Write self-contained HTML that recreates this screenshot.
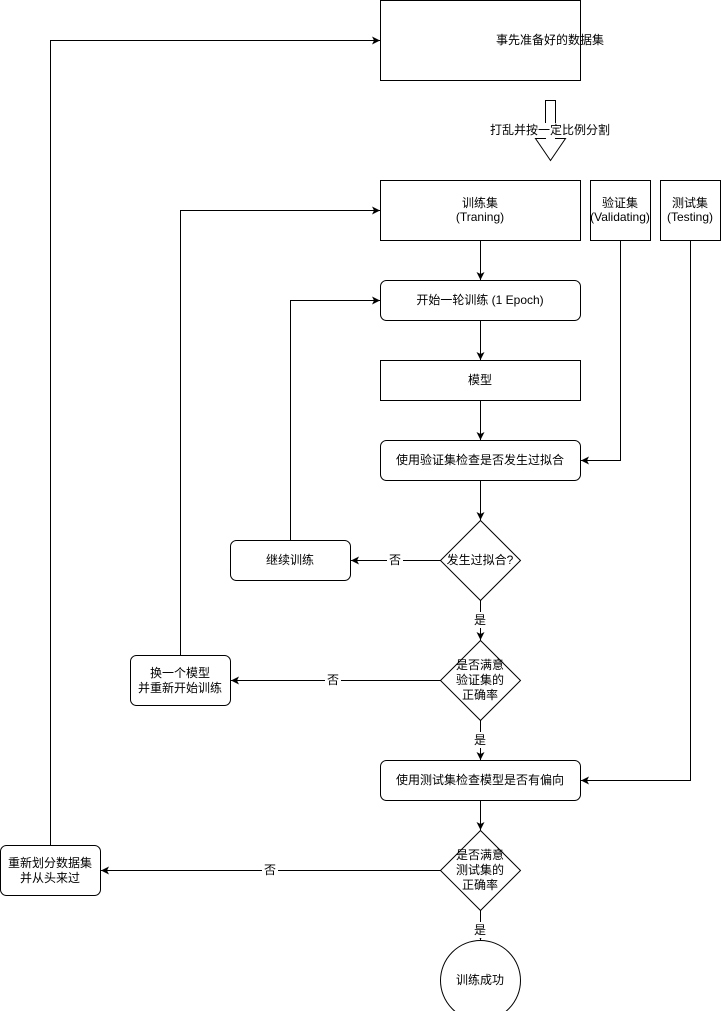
<!DOCTYPE html>
<html><head><meta charset="utf-8"><style>
html,body{margin:0;padding:0;background:#fff;}
svg{display:block;}
text{font-family:"Liberation Sans","Noto Sans CJK SC",sans-serif;font-size:12px;fill:#000;text-anchor:middle;dominant-baseline:central;}
</style></head><body>
<svg width="722" height="1011" viewBox="0 0 722 1011" xmlns="http://www.w3.org/2000/svg">
<defs><marker id="a" markerWidth="10" markerHeight="10" refX="9" refY="5" orient="auto" markerUnits="userSpaceOnUse"><path d="M1,1 L9,5 L1,9 L3,5 Z" fill="#000"/></marker></defs>
<g fill="#fff" stroke="#000" stroke-width="1">
<rect x="380.5" y="0.5" width="200" height="80"/>
<path d="M545.5,100.5 H555.5 V138.5 H565.5 L550.5,160.5 L535.5,138.5 H545.5 Z"/>
<rect x="380.5" y="180.5" width="200" height="60"/>
<rect x="590.5" y="180.5" width="60" height="60"/>
<rect x="660.5" y="180.5" width="60" height="60"/>
<rect x="380.5" y="280.5" width="200" height="40" rx="6"/>
<rect x="380.5" y="360.5" width="200" height="40"/>
<rect x="380.5" y="440.5" width="200" height="40" rx="6"/>
<path d="M480.5,520.5 L520.5,560.5 L480.5,600.5 L440.5,560.5 Z"/>
<rect x="230.5" y="540.5" width="120" height="40" rx="6"/>
<path d="M480.5,640.5 L520.5,680.5 L480.5,720.5 L440.5,680.5 Z"/>
<rect x="130.5" y="655.5" width="100" height="50" rx="6"/>
<rect x="380.5" y="760.5" width="200" height="40" rx="6"/>
<path d="M480.5,830.5 L520.5,870.5 L480.5,910.5 L440.5,870.5 Z"/>
<rect x="0.5" y="845.5" width="100" height="50" rx="6"/>
<circle cx="480.5" cy="980.5" r="40"/>
</g>
<g fill="none" stroke="#000" stroke-width="1" marker-end="url(#a)">
<path d="M480.5,240.5 V280"/>
<path d="M480.5,320.5 V360"/>
<path d="M480.5,400.5 V440"/>
<path d="M480.5,480.5 V520"/>
<path d="M480.5,600.5 V640"/>
<path d="M480.5,720.5 V760"/>
<path d="M480.5,800.5 V830"/>
<path d="M480.5,910.5 V940"/>
<path d="M620.5,240.5 V460.5 H581"/>
<path d="M690.5,240.5 V780.5 H581"/>
<path d="M440.5,560.5 H351"/>
<path d="M290.5,540.5 V300.5 H380"/>
<path d="M440.5,680.5 H231"/>
<path d="M180.5,655.5 V210.5 H380"/>
<path d="M440.5,870.5 H101"/>
<path d="M50.5,845.5 V40.5 H380"/>
</g>
<g fill="#fff">
<rect x="494" y="123" width="112" height="15"/>
<rect x="387" y="552" width="16" height="16"/>
<rect x="325" y="672" width="16" height="16"/>
<rect x="262" y="862" width="16" height="16"/>
<rect x="473" y="612" width="15" height="16"/>
<rect x="473" y="732" width="15" height="16"/>
<rect x="473" y="922" width="15" height="16"/>
</g>
<text x="550" y="40">事先准备好的数据集</text>
<text x="550" y="130">打乱并按一定比例分割</text>
<text x="480" y="203">训练集</text><text x="480" y="217">(Traning)</text>
<text x="620" y="203">验证集</text><text x="620" y="217">(Validating)</text>
<text x="690" y="203">测试集</text><text x="690" y="217">(Testing)</text>
<text x="480" y="300">开始一轮训练 (1 Epoch)</text>
<text x="480" y="380">模型</text>
<text x="480" y="460">使用验证集检查是否发生过拟合</text>
<text x="480" y="560">发生过拟合?</text>
<text x="290" y="560">继续训练</text>
<text x="395" y="560">否</text>
<text x="480" y="620">是</text>
<text x="480" y="665">是否满意</text><text x="480" y="680">验证集的</text><text x="480" y="695">正确率</text>
<text x="180" y="673">换一个模型</text><text x="180" y="688">并重新开始训练</text>
<text x="333" y="680">否</text>
<text x="480" y="740">是</text>
<text x="480" y="780">使用测试集检查模型是否有偏向</text>
<text x="480" y="855">是否满意</text><text x="480" y="870">测试集的</text><text x="480" y="885">正确率</text>
<text x="50" y="863">重新划分数据集</text><text x="50" y="878">并从头来过</text>
<text x="270" y="870">否</text>
<text x="480" y="930">是</text>
<text x="480" y="980">训练成功</text>
</svg>
</body></html>
